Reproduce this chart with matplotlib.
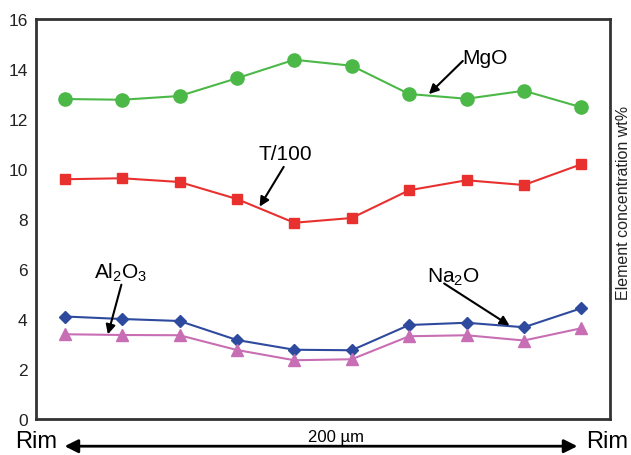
import numpy as np
import matplotlib
matplotlib.use("Agg")
import matplotlib.pyplot as plt

plt.rcParams["font.family"] = ["Liberation Sans", "DejaVu Sans"]
plt.rcParams["mathtext.default"] = "regular"

# profile positions (rim to rim)
pos = [1, 2, 3, 4, 5, 6, 7, 8, 9, 10]
mgo = [12.8, 12.77, 12.92, 13.63, 14.37, 14.13, 13.0, 12.81, 13.13, 12.47]
t100 = [9.59, 9.63, 9.48, 8.8, 7.85, 8.04, 9.15, 9.55, 9.36, 10.19]
na2o = [4.1, 4.0, 3.92, 3.16, 2.77, 2.75, 3.76, 3.85, 3.67, 4.43]
al2o3 = [3.39, 3.36, 3.35, 2.76, 2.35, 2.39, 3.31, 3.35, 3.14, 3.63]
yticks = [0, 2, 4, 6, 8, 10, 12, 14, 16]

fig = plt.figure(figsize=(6.31, 4.56), dpi=100)
ax = fig.add_axes([36/631, 1-420/456, 574/631, 400/456])

ax.plot(pos, mgo, color="#4cb848", marker="o", ms=9.5, lw=1.5)
ax.plot(pos, t100, color="#e8312f", marker="s", ms=7, lw=1.5)
ax.plot(pos, na2o, color="#2e4a9e", marker="D", ms=6, lw=1.5)
ax.plot(pos, al2o3, color="#c86eb4", marker="^", ms=8, lw=1.5)

ax.set_xlim(0.5, 10.5)
ax.set_ylim(0, 16)
ax.set_yticks(yticks)
ax.set_xticks([])
ax.tick_params(axis="y", length=0, pad=6, labelsize=12.5, colors="#222222")
for s in ax.spines.values():
    s.set_linewidth(2)
    s.set_color("#333333")

arr = dict(arrowstyle="-|>", color="black", lw=1.5, mutation_scale=14)
# labels with pointer arrows
ax.text(7.92, 14.48, "MgO", fontsize=15, va="center", ha="left")
ax.annotate("", xy=(7.31, 12.92), xytext=(7.97, 14.4), arrowprops=arr)
ax.text(4.85, 10.6, "T/100", fontsize=15, va="center", ha="center")
ax.annotate("", xy=(4.37, 8.4), xytext=(4.84, 10.18), arrowprops=arr)
ax.text(1.98, 5.88, "Al$_2$O$_3$", fontsize=15, va="center", ha="center")
ax.annotate("", xy=(1.74, 3.28), xytext=(2.0, 5.48), arrowprops=arr)
ax.text(7.78, 5.72, "Na$_2$O", fontsize=15, va="center", ha="center")
ax.annotate("", xy=(8.79, 3.68), xytext=(7.57, 5.48), arrowprops=arr)

ax.text(1.024, 0.5425, "Element concentration wt%", transform=ax.transAxes,
        rotation=90, fontsize=11.5, va="center", ha="center", color="#222222")

# rim-to-rim scale bar under the axis
ax.annotate("", xy=(0.045, -0.068), xytext=(0.948, -0.068), xycoords="axes fraction",
            annotation_clip=False,
            arrowprops=dict(arrowstyle="<|-|>", color="black", lw=2, mutation_scale=20))
ax.text(0.0, -0.055, "Rim", transform=ax.transAxes, fontsize=17, va="center", ha="center")
ax.text(0.995, -0.055, "Rim", transform=ax.transAxes, fontsize=17, va="center", ha="center")
ax.text(0.523, -0.043, "200 µm", transform=ax.transAxes, fontsize=12, va="center", ha="center")

fig.savefig("out.png", dpi=100)
